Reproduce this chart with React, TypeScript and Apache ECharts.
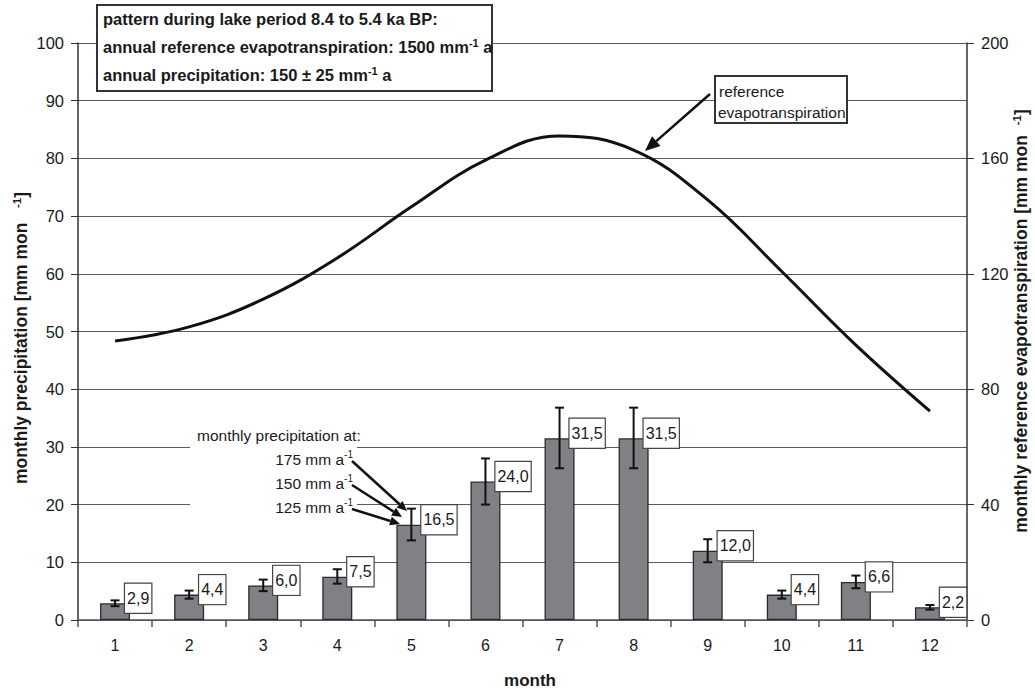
import React, { useEffect, useRef } from "react";
import * as echarts from "echarts";

const months = ["1", "2", "3", "4", "5", "6", "7", "8", "9", "10", "11", "12"];
// monthly precipitation at 150 mm/a
const precip150 = [2.9, 4.4, 6.0, 7.5, 16.5, 24.0, 31.5, 31.5, 12.0, 4.4, 6.6, 2.2];
// monthly precipitation at 125 mm/a (lower error bar)
const precip125 = [2.4, 3.7, 5.0, 6.3, 13.8, 20.0, 26.3, 26.3, 10.0, 3.7, 5.5, 1.8];
// monthly precipitation at 175 mm/a (upper error bar)
const precip175 = [3.4, 5.1, 7.0, 8.8, 19.3, 28.0, 36.8, 36.8, 14.0, 5.1, 7.7, 2.6];
// monthly reference evapotranspiration (right axis)
const evap = [96.7, 101.6, 111.2, 125.5, 143.2, 159.4, 167.8, 162.9, 145.6, 120.8, 95.3, 72.4];
const labels = ["2,9", "4,4", "6,0", "7,5", "16,5", "24,0", "31,5", "31,5", "12,0", "4,4", "6,6", "2,2"];
const leftTicks = { min: 0, max: 100, interval: 10 };
const rightTicks = { min: 0, max: 200, interval: 40 };

const FF = '"Liberation Sans", Arial, Helvetica, sans-serif';
const TXT = "#1a1a1a";

function arrow(x1: number, y1: number, x2: number, y2: number, w: number, hl: number, hw: number) {
  const dx = x2 - x1, dy = y2 - y1;
  const L = Math.hypot(dx, dy);
  const ux = dx / L, uy = dy / L;
  const bx = x2 - ux * hl, by = y2 - uy * hl;
  const px = -uy, py = ux;
  return [
    { type: "line", z: 101, shape: { x1, y1, x2: bx, y2: by }, style: { stroke: "#111", lineWidth: w } },
    {
      type: "polygon",
      z: 101,
      shape: { points: [[x2, y2], [bx + px * hw, by + py * hw], [bx - px * hw, by - py * hw]] },
      style: { fill: "#111" },
    },
  ];
}

const supRich = (size: number, weight: string) => ({
  sup: { fontSize: size, fontWeight: weight, fontFamily: FF, fill: TXT, padding: [0, 0, 9, 0] },
});

export default function App() {
  const ref = useRef<HTMLDivElement>(null);
  useEffect(() => {
    if (!ref.current) return;
    const chart = echarts.init(ref.current, undefined, { renderer: "svg" });
    const customData = months.map((_, i) => [i, precip150[i], precip125[i], precip175[i]]);
    const titleBold = (txt: string, y: number, size: number) => ({
      type: "text",
      z: 102,
      x: 103,
      y,
      style: {
        text: txt,
        fontFamily: FF,
        fontWeight: "bold",
        fontSize: size,
        fill: TXT,
        align: "left",
        verticalAlign: "middle",
        rich: supRich(11, "bold"),
      },
    });
    const normText = (txt: string, x: number, y: number, align: string) => ({
      type: "text",
      z: 102,
      x,
      y,
      style: {
        text: txt,
        fontFamily: FF,
        fontSize: 15.5,
        fill: TXT,
        align,
        verticalAlign: "middle",
        rich: supRich(10, "normal"),
      },
    });
    const option: any = {
      animation: false,
      backgroundColor: "#fff",
      grid: { left: 78, right: 68, top: 43, bottom: 73, containLabel: false },
      xAxis: {
        type: "category",
        data: months,
        boundaryGap: true,
        axisLine: { lineStyle: { color: "#555", width: 1.5 } },
        axisTick: { show: true, length: 7, lineStyle: { color: "#555", width: 1.5 } },
        axisLabel: { fontSize: 16, color: TXT, fontFamily: FF, margin: 17 },
      },
      yAxis: [
        {
          type: "value",
          ...leftTicks,
          axisLine: { show: true, lineStyle: { color: "#333", width: 1.5 } },
          axisTick: { show: true, length: 7, lineStyle: { color: "#333" } },
          axisLabel: { fontSize: 16.5, color: TXT, fontFamily: FF, margin: 14 },
          splitLine: { show: true, lineStyle: { color: "#5a5a5a", width: 1.2 } },
        },
        {
          type: "value",
          position: "right",
          ...rightTicks,
          axisLine: { show: true, lineStyle: { color: "#333", width: 1.5 } },
          axisTick: { show: true, length: 7, lineStyle: { color: "#333" } },
          axisLabel: { fontSize: 16.5, color: TXT, fontFamily: FF, margin: 14 },
          splitLine: { show: false },
        },
      ],
      series: [
        {
          type: "bar",
          data: precip150,
          barWidth: 30,
          itemStyle: { color: "#7f8185", borderColor: "#2a2a2a", borderWidth: 1.3 },
          z: 2,
        },
        {
          type: "line",
          yAxisIndex: 1,
          data: evap,
          smooth: 0.4,
          symbol: "none",
          lineStyle: { color: "#111", width: 3 },
          z: 3,
        },
        {
          type: "custom",
          data: customData,
          encode: { x: 0, y: 1 },
          z: 5,
          renderItem: (params: any, api: any) => {
            const i = api.value(0);
            const top = api.coord([i, api.value(1)]);
            const pLo = api.coord([i, api.value(2)]);
            const pHi = api.coord([i, api.value(3)]);
            const cx = top[0];
            const st = { stroke: "#111", lineWidth: 2 };
            return {
              type: "group",
              children: [
                { type: "line", shape: { x1: cx, y1: pLo[1], x2: cx, y2: pHi[1] }, style: st },
                { type: "line", shape: { x1: cx - 4.5, y1: pLo[1], x2: cx + 4.5, y2: pLo[1] }, style: st },
                { type: "line", shape: { x1: cx - 4.5, y1: pHi[1], x2: cx + 4.5, y2: pHi[1] }, style: st },
                {
                  type: "text",
                  x: cx + 10,
                  y: top[1] - 5,
                  style: {
                    text: labels[i],
                    fontFamily: FF,
                    fontSize: 16,
                    fill: TXT,
                    align: "left",
                    verticalAlign: "middle",
                    backgroundColor: "#fff",
                    borderColor: "#444",
                    borderWidth: 1.2,
                    padding: [7, 2, 6, 2],
                  },
                },
              ],
            };
          },
        },
      ],
      graphic: [
        // title box
        { type: "rect", z: 100, shape: { x: 97, y: 5, width: 395, height: 86 }, style: { fill: "#fff", stroke: "#333", lineWidth: 2 } },
        titleBold("pattern during lake period 8.4 to 5.4 ka BP:", 19, 16.5),
        titleBold("annual reference evapotranspiration: 1500 mm{sup|-1} a", 47, 16.5),
        titleBold("annual precipitation: 150 ± 25 mm{sup|-1} a", 75, 16.5),
        // reference evapotranspiration annotation
        { type: "rect", z: 100, shape: { x: 715, y: 76, width: 132, height: 47 }, style: { fill: "#fff", stroke: "#333", lineWidth: 2 } },
        normText("reference", 719, 91, "left"),
        normText("evapotranspiration", 718, 112, "left"),
        ...arrow(710, 94, 645, 151, 2.5, 15, 6.5),
        // precipitation annotation
        { type: "rect", z: 100, shape: { x: 190, y: 424, width: 167, height: 96 }, style: { fill: "#fff" } },
        normText("monthly precipitation at:", 197, 435, "left"),
        normText("175 mm a{sup|-1}", 353, 459, "right"),
        normText("150 mm a{sup|-1}", 353, 483, "right"),
        normText("125 mm a{sup|-1}", 353, 507, "right"),
        ...arrow(352, 461, 407, 511, 2.5, 10, 4.5),
        ...arrow(352, 485, 402, 517, 2.5, 10, 4.5),
        ...arrow(352, 509, 400, 524, 2.5, 10, 4.5),
        // axis names
        {
          type: "text",
          z: 102,
          x: 21,
          y: 338,
          rotation: Math.PI / 2,
          style: {
            text: "monthly precipitation [mm mon   {sup|-1}]",
            fontFamily: FF,
            fontWeight: "bold",
            fontSize: 17.5,
            fill: TXT,
            align: "center",
            verticalAlign: "middle",
            rich: supRich(11.5, "bold"),
          },
        },
        {
          type: "text",
          z: 102,
          x: 1021,
          y: 321,
          rotation: Math.PI / 2,
          style: {
            text: "monthly reference evapotranspiration [mm mon  {sup|-1}]",
            fontFamily: FF,
            fontWeight: "bold",
            fontSize: 17.5,
            fill: TXT,
            align: "center",
            verticalAlign: "middle",
            rich: supRich(11.5, "bold"),
          },
        },
        {
          type: "text",
          z: 102,
          x: 530,
          y: 680,
          style: {
            text: "month",
            fontFamily: FF,
            fontWeight: "bold",
            fontSize: 17,
            fill: TXT,
            align: "center",
            verticalAlign: "middle",
          },
        },
      ],
    };
    chart.setOption(option);
    return () => chart.dispose();
  }, []);
  return (
    <div
      ref={ref}
      style={{ position: "fixed", left: 0, top: 0, width: 1035, height: 693, background: "#fff" }}
    />
  );
}
